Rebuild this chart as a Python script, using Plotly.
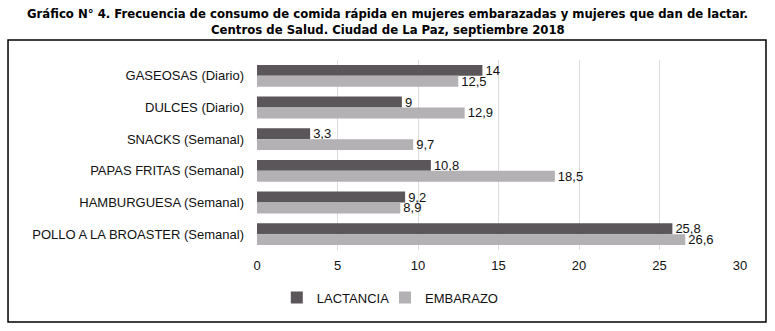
import plotly.graph_objects as go

categories = ["GASEOSAS (Diario)", "DULCES (Diario)", "SNACKS (Semanal)",
              "PAPAS FRITAS (Semanal)", "HAMBURGUESA (Semanal)",
              "POLLO A LA BROASTER (Semanal)"]
lactancia = [14, 9, 3.3, 10.8, 9.2, 25.8]
embarazo = [12.5, 12.9, 9.7, 18.5, 8.9, 26.6]
x_ticks = [0, 5, 10, 15, 20, 25, 30]
title_lines = ["Gráfico N° 4. Frecuencia de consumo de comida rápida en mujeres embarazadas y mujeres que dan de lactar.",
               "Centros de Salud. Ciudad de La Paz, septiembre 2018"]

def fmt(v):
    return f"{v:g}".replace(".", ",")

font = "Liberation Sans, Arial, sans-serif"
title_font = "DejaVu Sans Condensed, Liberation Sans Narrow, Arial Narrow, sans-serif"

fig = go.Figure()
fig.add_trace(go.Bar(
    y=categories, x=lactancia, name="LACTANCIA", orientation="h",
    marker=dict(color="#5b5659", line=dict(width=0)),
    text=[fmt(v) for v in lactancia], textposition="outside", constraintext="none",
    textfont=dict(size=13, color="#111111", family=font), cliponaxis=False,
    legend="legend", showlegend=True,
))
fig.add_trace(go.Bar(
    y=categories, x=embarazo, name="EMBARAZO", orientation="h",
    marker=dict(color="#b3b1b3", line=dict(width=0)),
    text=[fmt(v) for v in embarazo], textposition="outside", constraintext="none",
    textfont=dict(size=13, color="#111111", family=font), cliponaxis=False,
    legend="legend2", showlegend=True,
))

legend_common = dict(orientation="h", xanchor="left", y=-0.25, yanchor="middle",
                     font=dict(size=13), bgcolor="rgba(0,0,0,0)")

fig.update_layout(
    width=775, height=331,
    showlegend=True,
    margin=dict(l=257, r=35, t=60, b=81),
    paper_bgcolor="white", plot_bgcolor="white",
    barmode="group", bargap=0.31, bargroupgap=0,
    font=dict(family=font, size=13, color="#111111"),
    xaxis=dict(range=[0, 30], tickvals=x_ticks, showgrid=True, gridcolor="#dcdcdc",
               gridwidth=1, zeroline=False, showline=False, ticks="",
               tickfont=dict(size=13), ticklabelstandoff=6),
    yaxis=dict(autorange="reversed", showgrid=False, zeroline=False, showline=False,
               ticks="", tickfont=dict(size=13), ticklabelstandoff=12),
    legend=dict(x=0.041, **legend_common),
    legend2=dict(x=0.265, **legend_common),
)

for line, ypos in zip(title_lines, [1.247, 1.163]):
    fig.add_annotation(text="<b>" + line + "</b>", xref="paper", yref="paper",
                       x=0.271, y=ypos, xanchor="center", yanchor="middle",
                       showarrow=False,
                       font=dict(family=title_font, size=13, color="#000000"))

fig.add_shape(type="rect", xref="paper", yref="paper",
              x0=-0.5155, x1=1.0538, y0=-0.379, y1=1.105,
              line=dict(color="black", width=1.5), fillcolor="rgba(0,0,0,0)")

fig.write_html("out.html", post_script="document.body.style.margin='0';",
               config={"displayModeBar": False})
